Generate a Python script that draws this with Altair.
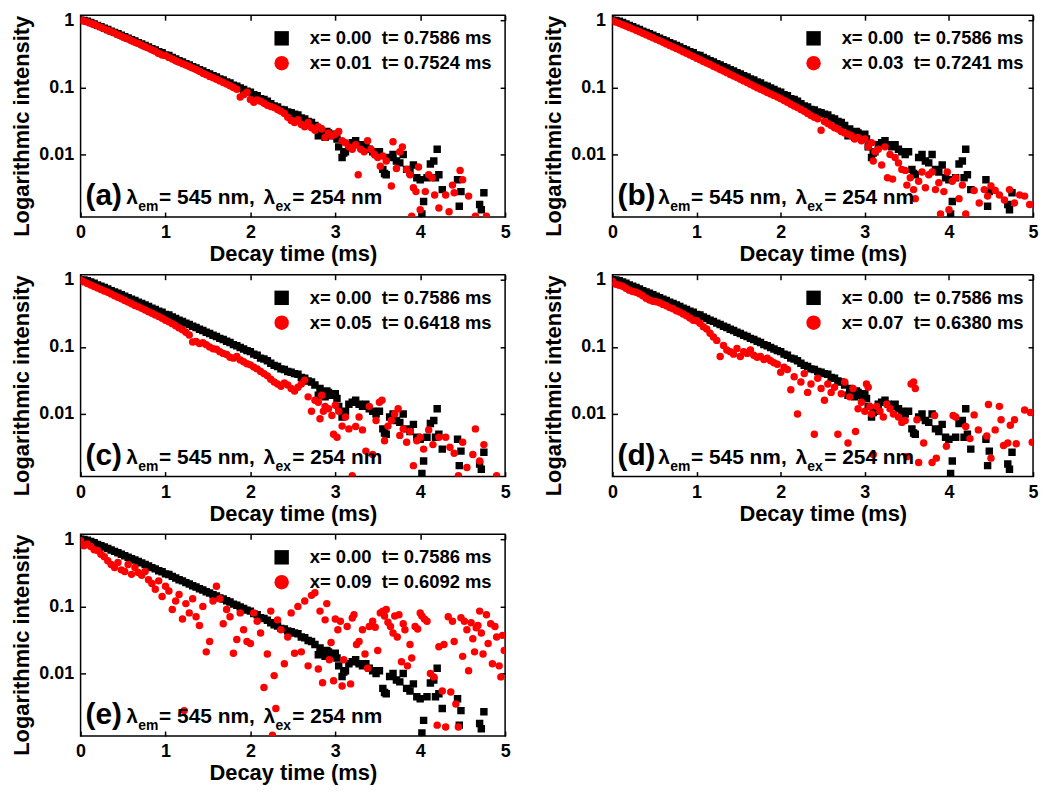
import altair as alt
import pandas as pd

FONT = "Liberation Sans"

# sample times of the dense part of every decay curve (ms)
T_GRID = [0.00, 0.04, 0.08, 0.12, 0.16, 0.20, 0.24, 0.28, 0.32, 0.36,
          0.40, 0.44, 0.48, 0.52, 0.56, 0.60, 0.64, 0.68, 0.72, 0.76,
          0.80, 0.84, 0.88, 0.92, 0.96, 1.00, 1.04, 1.08, 1.12, 1.16,
          1.20, 1.24, 1.28, 1.32, 1.36, 1.40, 1.44, 1.48, 1.52, 1.56,
          1.60, 1.64, 1.68, 1.72, 1.76, 1.80, 1.84, 1.88, 1.92, 1.96,
          2.00, 2.04, 2.08, 2.12, 2.16, 2.20, 2.24, 2.28, 2.32, 2.36,
          2.40, 2.44, 2.48, 2.52, 2.56, 2.60, 2.64, 2.68, 2.72, 2.76]

# x = 0.00 (reference sample, shown in every panel)
BLACK_DENSE = [1.000, 0.990, 0.965, 0.925, 0.885, 0.840, 0.805, 0.765, 0.730, 0.690,
               0.660, 0.630, 0.600, 0.570, 0.540, 0.515, 0.490, 0.465, 0.445, 0.420,
               0.400, 0.378, 0.362, 0.340, 0.328, 0.305, 0.298, 0.280, 0.265, 0.250,
               0.240, 0.226, 0.216, 0.203, 0.195, 0.183, 0.176, 0.165, 0.158, 0.149,
               0.143, 0.134, 0.129, 0.121, 0.116, 0.108, 0.104, 0.098, 0.093, 0.088,
               0.085, 0.078, 0.075, 0.068, 0.066, 0.062, 0.057, 0.053, 0.051, 0.047,
               0.046, 0.043, 0.042, 0.040, 0.039, 0.035, 0.034, 0.031, 0.030, 0.027]
BLACK_TAIL = [(2.80, 0.019), (2.82, 0.024), (2.84, 0.020), (2.88, 0.018), (2.90, 0.022),
              (2.92, 0.021), (2.96, 0.019), (3.00, 0.020), (3.02, 0.017), (3.04, 0.013),
              (3.08, 0.009), (3.10, 0.0105), (3.12, 0.011), (3.16, 0.014), (3.20, 0.015),
              (3.24, 0.016), (3.28, 0.014), (3.32, 0.013), (3.36, 0.014), (3.40, 0.012),
              (3.44, 0.011), (3.48, 0.010), (3.52, 0.011), (3.56, 0.006), (3.58, 0.0052),
              (3.60, 0.005), (3.64, 0.009), (3.68, 0.010), (3.72, 0.008), (3.76, 0.0075),
              (3.80, 0.010), (3.84, 0.006), (3.88, 0.0055), (3.92, 0.007), (3.96, 0.0045),
              (4.00, 0.0042), (4.02, 0.0013), (4.04, 0.0020), (4.08, 0.0045), (4.12, 0.0072),
              (4.16, 0.0080), (4.18, 0.0045), (4.20, 0.0120), (4.22, 0.0050), (4.26, 0.0030),
              (4.44, 0.0042), (4.46, 0.0017), (4.48, 0.0028), (4.70, 0.0018), (4.72, 0.0015),
              (4.75, 0.0027)]

# (a) x = 0.01
RED_A_DENSE = [1.000, 0.975, 0.945, 0.905, 0.865, 0.825, 0.785, 0.745, 0.710, 0.675,
               0.645, 0.610, 0.580, 0.550, 0.525, 0.495, 0.470, 0.450, 0.425, 0.405,
               0.385, 0.365, 0.345, 0.320, 0.305, 0.300, 0.280, 0.265, 0.250, 0.238,
               0.226, 0.215, 0.205, 0.195, 0.185, 0.174, 0.163, 0.155, 0.146, 0.139,
               0.132, 0.125, 0.118, 0.112, 0.106, 0.100, 0.094, 0.072, 0.078, 0.085,
               0.066, 0.060, 0.065, 0.062, 0.058, 0.054, 0.052, 0.050, 0.047, 0.044,
               0.041, 0.036, 0.032, 0.030, 0.033, 0.028, 0.026, 0.030, 0.025, 0.023]
RED_A_TAIL = [(2.80, 0.026), (2.84, 0.024), (2.88, 0.018), (2.92, 0.021), (2.96, 0.019),
              (3.00, 0.020), (3.04, 0.022), (3.08, 0.016), (3.12, 0.015), (3.16, 0.013),
              (3.20, 0.012), (3.24, 0.014), (3.27, 0.005), (3.30, 0.012), (3.34, 0.011),
              (3.38, 0.016), (3.42, 0.012), (3.46, 0.010), (3.50, 0.009), (3.53, 0.0067),
              (3.56, 0.0095), (3.60, 0.008), (3.66, 0.0034), (3.68, 0.0155), (3.72, 0.0062),
              (3.76, 0.011), (3.79, 0.013), (3.84, 0.006), (3.88, 0.0050), (3.90, 0.0012),
              (3.92, 0.0032), (3.95, 0.0028), (3.98, 0.0065), (4.00, 0.0015), (4.06, 0.0028),
              (4.10, 0.0050), (4.14, 0.0045), (4.17, 0.0025), (4.22, 0.0016), (4.30, 0.0025),
              (4.34, 0.0014), (4.38, 0.0035), (4.40, 0.0027), (4.47, 0.0058), (4.50, 0.0042),
              (4.57, 0.0024), (4.65, 0.0012), (4.78, 0.0012)]

# (b) x = 0.03
RED_B_DENSE = [0.985, 0.940, 0.900, 0.860, 0.820, 0.780, 0.745, 0.710, 0.675, 0.640,
               0.610, 0.580, 0.550, 0.520, 0.495, 0.470, 0.445, 0.422, 0.400, 0.380,
               0.360, 0.340, 0.322, 0.305, 0.289, 0.272, 0.258, 0.244, 0.231, 0.219,
               0.207, 0.196, 0.185, 0.175, 0.166, 0.156, 0.148, 0.140, 0.132, 0.125,
               0.118, 0.111, 0.105, 0.099, 0.094, 0.089, 0.084, 0.080, 0.076, 0.072,
               0.068, 0.064, 0.060, 0.056, 0.053, 0.050, 0.047, 0.044, 0.041, 0.038,
               0.036, 0.034, 0.023, 0.031, 0.029, 0.027, 0.025, 0.024, 0.022, 0.021]
RED_B_TAIL = [(2.80, 0.020), (2.84, 0.019), (2.88, 0.017), (2.92, 0.018), (2.96, 0.016),
              (3.00, 0.017), (3.04, 0.013), (3.08, 0.015), (3.10, 0.008), (3.12, 0.011),
              (3.16, 0.012), (3.20, 0.007), (3.24, 0.013), (3.27, 0.0045), (3.30, 0.010),
              (3.33, 0.0043), (3.36, 0.009), (3.40, 0.0075), (3.44, 0.006), (3.48, 0.0058),
              (3.50, 0.0035), (3.54, 0.0045), (3.58, 0.0030), (3.60, 0.0022), (3.64, 0.0040),
              (3.68, 0.0055), (3.72, 0.0032), (3.76, 0.0050), (3.80, 0.0055), (3.84, 0.0030),
              (3.88, 0.0038), (3.90, 0.0013), (3.94, 0.0028), (3.98, 0.0055), (4.00, 0.0015),
              (4.04, 0.0040), (4.08, 0.0045), (4.12, 0.0022), (4.16, 0.0035), (4.20, 0.0013),
              (4.30, 0.0029), (4.36, 0.0019), (4.42, 0.0030), (4.46, 0.0024), (4.50, 0.0034),
              (4.55, 0.0029), (4.60, 0.0025), (4.66, 0.0021), (4.72, 0.0030), (4.78, 0.0019),
              (4.84, 0.0025), (4.90, 0.0024), (4.96, 0.0018)]

# (c) x = 0.05
RED_C_DENSE = [0.990, 0.930, 0.880, 0.835, 0.795, 0.755, 0.715, 0.680, 0.650, 0.615,
               0.580, 0.550, 0.520, 0.490, 0.465, 0.440, 0.415, 0.395, 0.375, 0.355,
               0.335, 0.318, 0.300, 0.283, 0.267, 0.250, 0.236, 0.222, 0.207, 0.192,
               0.180, 0.165, 0.150, 0.118, 0.120, 0.112, 0.115, 0.108, 0.100, 0.094,
               0.092, 0.085, 0.080, 0.077, 0.070, 0.068, 0.072, 0.064, 0.060, 0.056,
               0.054, 0.050, 0.047, 0.043, 0.040, 0.037, 0.033, 0.030, 0.028, 0.026,
               0.029, 0.027, 0.024, 0.022, 0.025, 0.028, 0.032, 0.018, 0.011, 0.016]
RED_C_TAIL = [(2.80, 0.015), (2.82, 0.0085), (2.84, 0.019), (2.86, 0.011), (2.88, 0.013),
              (2.92, 0.012), (2.96, 0.0095), (2.98, 0.005), (3.00, 0.0135), (3.02, 0.0045),
              (3.04, 0.011), (3.08, 0.0066), (3.12, 0.009), (3.16, 0.0060), (3.20, 0.0012),
              (3.24, 0.0065), (3.28, 0.0090), (3.32, 0.0058), (3.36, 0.0028), (3.40, 0.013),
              (3.44, 0.0025), (3.48, 0.008), (3.52, 0.015), (3.55, 0.016), (3.58, 0.0040),
              (3.62, 0.0066), (3.66, 0.008), (3.70, 0.0100), (3.74, 0.012), (3.76, 0.0048),
              (3.80, 0.0060), (3.84, 0.0038), (3.88, 0.0055), (3.92, 0.0017), (3.96, 0.0040),
              (4.00, 0.0045), (4.04, 0.0030), (4.10, 0.0058), (4.15, 0.0035), (4.22, 0.0045),
              (4.30, 0.0045), (4.35, 0.0032), (4.40, 0.0026), (4.45, 0.0012), (4.50, 0.0038),
              (4.55, 0.0016), (4.62, 0.0025), (4.65, 0.0060), (4.70, 0.0020), (4.75, 0.0035),
              (4.90, 0.0012)]

# (d) x = 0.07
RED_D_DENSE = [0.950, 0.860, 0.830, 0.800, 0.750, 0.700, 0.670, 0.650, 0.620, 0.580,
               0.530, 0.500, 0.480, 0.470, 0.455, 0.430, 0.410, 0.385, 0.370, 0.345,
               0.330, 0.310, 0.290, 0.270, 0.250, 0.245, 0.225, 0.200, 0.185, 0.160,
               0.140, 0.125, 0.072, 0.105, 0.090, 0.085, 0.078, 0.095, 0.072, 0.085,
               0.080, 0.090, 0.075, 0.070, 0.072, 0.065, 0.068, 0.062, 0.058, 0.055,
               0.042, 0.050, 0.046, 0.023, 0.036, 0.010, 0.030, 0.040, 0.021, 0.028,
               0.005, 0.034, 0.024, 0.016, 0.028, 0.021, 0.025, 0.005, 0.020, 0.030]
RED_D_TAIL = [(2.80, 0.0037), (2.82, 0.018), (2.86, 0.024), (2.89, 0.0055), (2.92, 0.012),
              (2.96, 0.015), (3.00, 0.011), (3.02, 0.028), (3.04, 0.025), (3.06, 0.013),
              (3.08, 0.010), (3.10, 0.0025), (3.14, 0.013), (3.18, 0.011), (3.22, 0.009),
              (3.26, 0.014), (3.30, 0.012), (3.34, 0.010), (3.40, 0.009), (3.44, 0.0075),
              (3.48, 0.008), (3.50, 0.0023), (3.55, 0.028), (3.58, 0.030), (3.60, 0.024),
              (3.62, 0.0082), (3.64, 0.0019), (3.70, 0.0037), (3.80, 0.0019), (3.83, 0.0095),
              (3.85, 0.0022), (3.97, 0.0033), (4.05, 0.0095), (4.08, 0.0090), (4.20, 0.0065),
              (4.25, 0.0043), (4.30, 0.0097), (4.35, 0.0058), (4.45, 0.0047), (4.47, 0.0139),
              (4.50, 0.0022), (4.55, 0.0058), (4.60, 0.0130), (4.62, 0.0082), (4.65, 0.0034),
              (4.70, 0.0037), (4.73, 0.0068), (4.78, 0.0082), (4.80, 0.0036), (4.90, 0.0115),
              (4.97, 0.0105), (4.99, 0.0038)]

# (e) x = 0.09
RED_E_DENSE = [0.950, 0.800, 0.850, 0.780, 0.700, 0.680, 0.600, 0.550, 0.480, 0.420,
               0.380, 0.450, 0.350, 0.330, 0.420, 0.300, 0.380, 0.320, 0.290, 0.330,
               0.250, 0.220, 0.180, 0.240, 0.140, 0.200, 0.170, 0.090, 0.120, 0.150,
               0.065, 0.110, 0.080, 0.130, 0.070, 0.052, 0.100, 0.021, 0.030, 0.120,
               0.200, 0.130, 0.055, 0.090, 0.070, 0.020, 0.032, 0.080, 0.045, 0.030,
               0.028, 0.080, 0.060, 0.040, 0.0062, 0.0195, 0.085, 0.0093, 0.063, 0.045,
               0.014, 0.035, 0.080, 0.020, 0.100, 0.021, 0.120, 0.013, 0.146, 0.160]
RED_E_TAIL = [(1.22, 0.0028), (2.26, 0.0012), (2.30, 0.0030),
              (2.80, 0.0117), (2.82, 0.085), (2.85, 0.0073), (2.88, 0.063), (2.90, 0.110),
              (2.93, 0.016), (2.95, 0.029), (2.98, 0.0078), (3.00, 0.065), (3.03, 0.045),
              (3.06, 0.060), (3.08, 0.0065), (3.10, 0.016), (3.14, 0.050), (3.18, 0.007),
              (3.20, 0.067), (3.22, 0.075), (3.25, 0.027), (3.28, 0.030), (3.32, 0.045),
              (3.35, 0.0195), (3.38, 0.012), (3.40, 0.050), (3.44, 0.060), (3.47, 0.049),
              (3.50, 0.022), (3.53, 0.080), (3.56, 0.085), (3.58, 0.072), (3.60, 0.090),
              (3.62, 0.058), (3.65, 0.050), (3.68, 0.040), (3.70, 0.072), (3.73, 0.035),
              (3.75, 0.075), (3.78, 0.015), (3.80, 0.055), (3.82, 0.045), (3.85, 0.013),
              (3.88, 0.027), (3.90, 0.017), (3.94, 0.050), (3.97, 0.046), (4.00, 0.080),
              (4.02, 0.072), (4.05, 0.065), (4.08, 0.060), (4.12, 0.010), (4.16, 0.0089),
              (4.20, 0.0017), (4.22, 0.025), (4.26, 0.0055), (4.28, 0.027), (4.30, 0.0016),
              (4.33, 0.070), (4.36, 0.0053), (4.38, 0.060), (4.40, 0.030), (4.42, 0.0035),
              (4.45, 0.0016), (4.48, 0.068), (4.50, 0.018), (4.52, 0.060), (4.55, 0.045),
              (4.57, 0.011), (4.60, 0.057), (4.62, 0.033), (4.64, 0.021), (4.66, 0.048),
              (4.68, 0.052), (4.70, 0.085), (4.72, 0.040), (4.74, 0.0195), (4.78, 0.075),
              (4.80, 0.028), (4.83, 0.055), (4.85, 0.014), (4.88, 0.050), (4.90, 0.035),
              (4.93, 0.013), (4.95, 0.0089), (4.97, 0.037), (4.99, 0.022)]

BLACK_LABEL = "x= 0.00\u00a0 t= 0.7586 ms"
PANEL_LETTERS = ["a", "b", "c", "d", "e"]
RED_LABELS = ["x= 0.01\u00a0 t= 0.7524 ms", "x= 0.03\u00a0 t= 0.7241 ms",
              "x= 0.05\u00a0 t= 0.6418 ms", "x= 0.07\u00a0 t= 0.6380 ms",
              "x= 0.09\u00a0 t= 0.6092 ms"]
RED_DENSE = [RED_A_DENSE, RED_B_DENSE, RED_C_DENSE, RED_D_DENSE, RED_E_DENSE]
RED_TAIL = [RED_A_TAIL, RED_B_TAIL, RED_C_TAIL, RED_D_TAIL, RED_E_TAIL]

X_TICKS = [0, 1, 2, 3, 4, 5]
Y_TICKS = [0.01, 0.1, 1]
Y_DOMAIN = [0.00117, 1.19]
H = 203
WIDTHS = [427, 423, 427, 423, 427]
TICK = 5


def series_df(dense, tail, label, order):
    ts = list(T_GRID) + [p[0] for p in tail]
    vs = list(dense) + [p[1] for p in tail]
    return pd.DataFrame({"t": ts, "I": vs, "series": label, "ord": order})


def annotation(letter):
    pieces = [("(%s)" % letter, 5, 191, 30), ("\u03bb", 46, 190, 21), ("em", 58, 197, 14),
              ("= 545 nm,", 79, 190, 21), ("\u03bb", 184, 190, 21), ("ex", 196, 197, 14),
              ("= 254 nm", 213, 190, 21)]
    layers = []
    for txt, px, py, fs in pieces:
        layers.append(
            alt.Chart(pd.DataFrame({"s": [txt]}))
            .mark_text(align="left", baseline="alphabetic", font=FONT, fontSize=fs,
                       fontWeight="bold", color="black")
            .encode(x=alt.value(px), y=alt.value(py), text="s:N")
        )
    return layers


def panel(i):
    red_label = RED_LABELS[i]
    df = pd.concat([series_df(BLACK_DENSE, BLACK_TAIL, BLACK_LABEL, 0),
                    series_df(RED_DENSE[i], RED_TAIL[i], red_label, 1)], ignore_index=True)
    dom = [BLACK_LABEL, red_label]
    xs = alt.Scale(domain=[0, 5], nice=False, zero=False)
    ys = alt.Scale(type="log", domain=Y_DOMAIN, nice=False)
    leg = alt.Legend(title=None, orient="none", legendX=193, legendY=14, labelLimit=0,
                     symbolSize=210, labelFont=FONT, labelFontSize=18.5, labelFontWeight="bold",
                     labelColor="black", labelOffset=19, rowPadding=6, symbolOpacity=1,
                     symbolStrokeWidth=0)
    pts = (
        alt.Chart(df)
        .mark_point(filled=True, opacity=1, size=56, clip=True, strokeWidth=0)
        .encode(
            x=alt.X("t:Q", scale=xs,
                    axis=alt.Axis(values=X_TICKS, format="d", labelFlush=False, domain=False,
                                  offset=-TICK, labelPadding=7, title="Decay time (ms)",
                                  titlePadding=2)),
            y=alt.Y("I:Q", scale=ys,
                    axis=alt.Axis(values=Y_TICKS, format="~g", domain=False, offset=-TICK,
                                  labelPadding=7, title="Logarithmic intensity",
                                  titleAnchor="end", titlePadding=5)),
            color=alt.Color("series:N", scale=alt.Scale(domain=dom, range=["#000000", "#ff0000"]),
                            legend=leg),
            shape=alt.Shape("series:N", scale=alt.Scale(domain=dom, range=["square", "circle"]),
                            legend=leg),
            order=alt.Order("ord:Q"),
        )
    )
    mirror = (
        alt.Chart(df)
        .mark_point(opacity=0, size=1)
        .encode(
            x=alt.X("t:Q", scale=xs,
                    axis=alt.Axis(orient="top", values=X_TICKS, labels=False, title=None,
                                  domain=False, offset=-TICK)),
            y=alt.Y("I:Q", scale=ys,
                    axis=alt.Axis(orient="right", values=Y_TICKS, labels=False, title=None,
                                  domain=False, offset=-TICK)),
        )
    )
    return (
        alt.layer(pts, mirror, *annotation(PANEL_LETTERS[i]))
        .resolve_axis(x="independent", y="independent")
        .properties(width=WIDTHS[i], height=H)
    )


RES = dict(x="independent", y="independent", color="independent", shape="independent")

chart = (
    alt.concat(*[panel(i) for i in range(5)], columns=2,
               spacing={"row": 58, "column": 108}, bounds="flush")
    .resolve_scale(**RES)
    .properties(padding={"left": 2, "top": 0, "right": 0, "bottom": 0})
    .configure(font=FONT)
    .configure_axis(labelFont=FONT, labelFontSize=18, labelFontWeight="bold", labelColor="black",
                    titleFont=FONT, titleFontSize=22, titleFontWeight="bold", titleColor="black",
                    tickColor="black", tickWidth=1.5, tickSize=TICK, grid=False)
    .configure_view(stroke="black", strokeWidth=1.5)
)

chart.save("out.html", embed_options={"renderer": "svg", "actions": False})
